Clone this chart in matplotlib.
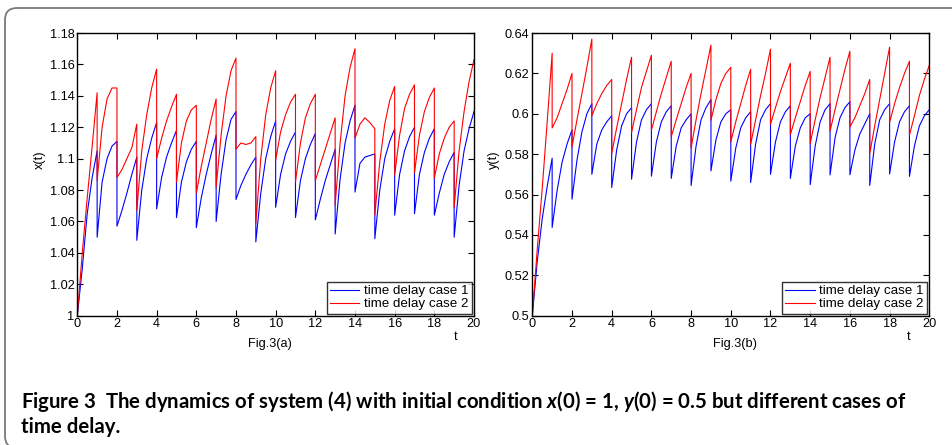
import numpy as np
import matplotlib
matplotlib.use("Agg")
import matplotlib.pyplot as plt
from matplotlib.patches import FancyBboxPatch
from matplotlib.transforms import IdentityTransform

# ---------------- data ----------------
# each row: values at t = k, k+0.25, k+0.5, k+0.75, k+1 (before the impulse at k+1)
seg_offsets = [0.0, 0.25, 0.5, 0.75, 1.0]

x_case1 = [
    [1.000, 1.030, 1.065, 1.088, 1.105],
    [1.050, 1.085, 1.100, 1.108, 1.111],
    [1.057, 1.067, 1.078, 1.090, 1.101],
    [1.048, 1.080, 1.100, 1.113, 1.123],
    [1.068, 1.088, 1.101, 1.110, 1.118],
    [1.0625, 1.085, 1.098, 1.106, 1.111],
    [1.056, 1.075, 1.090, 1.103, 1.115],
    [1.060, 1.090, 1.112, 1.125, 1.130],
    [1.074, 1.083, 1.090, 1.096, 1.101],
    [1.047, 1.078, 1.100, 1.114, 1.124],
    [1.069, 1.090, 1.103, 1.111, 1.117],
    [1.0625, 1.086, 1.100, 1.109, 1.116],
    [1.061, 1.074, 1.086, 1.096, 1.106],
    [1.052, 1.087, 1.110, 1.124, 1.134],
    [1.0787, 1.097, 1.101, 1.102, 1.103],
    [1.049, 1.080, 1.100, 1.111, 1.119],
    [1.064, 1.090, 1.105, 1.114, 1.120],
    [1.065, 1.090, 1.104, 1.113, 1.119],
    [1.064, 1.078, 1.090, 1.098, 1.104],
    [1.050, 1.083, 1.105, 1.119, 1.130],
]
x_case2 = [
    [1.000, 1.040, 1.075, 1.108, 1.142],
    [1.086, 1.120, 1.138, 1.145, 1.145],
    [1.088, 1.093, 1.100, 1.107, 1.122],
    [1.067, 1.105, 1.128, 1.145, 1.157],
    [1.100, 1.113, 1.124, 1.133, 1.141],
    [1.085, 1.110, 1.124, 1.131, 1.134],
    [1.078, 1.095, 1.110, 1.125, 1.138],
    [1.082, 1.115, 1.140, 1.156, 1.164],
    [1.106, 1.110, 1.109, 1.110, 1.114],
    [1.059, 1.100, 1.128, 1.145, 1.156],
    [1.099, 1.117, 1.128, 1.136, 1.141],
    [1.085, 1.110, 1.126, 1.135, 1.141],
    [1.086, 1.096, 1.106, 1.116, 1.126],
    [1.0706, 1.110, 1.140, 1.158, 1.170],
    [1.113, 1.122, 1.126, 1.123, 1.119],
    [1.064, 1.098, 1.122, 1.137, 1.146],
    [1.0897, 1.115, 1.132, 1.141, 1.147],
    [1.091, 1.115, 1.130, 1.139, 1.145],
    [1.0876, 1.103, 1.113, 1.120, 1.124],
    [1.069, 1.105, 1.130, 1.149, 1.163],
]
y_case1 = [
    [0.500, 0.527, 0.548, 0.564, 0.578],
    [0.5437, 0.562, 0.576, 0.585, 0.592],
    [0.5577, 0.577, 0.591, 0.600, 0.605],
    [0.570, 0.585, 0.592, 0.596, 0.599],
    [0.5635, 0.582, 0.594, 0.600, 0.603],
    [0.5676, 0.586, 0.597, 0.602, 0.605],
    [0.5691, 0.586, 0.596, 0.601, 0.604],
    [0.568, 0.584, 0.593, 0.597, 0.600],
    [0.5645, 0.584, 0.597, 0.603, 0.607],
    [0.5717, 0.587, 0.596, 0.600, 0.602],
    [0.5666, 0.583, 0.593, 0.598, 0.601],
    [0.566, 0.585, 0.597, 0.602, 0.605],
    [0.570, 0.586, 0.596, 0.601, 0.604],
    [0.568, 0.584, 0.593, 0.598, 0.600],
    [0.5649, 0.584, 0.596, 0.602, 0.605],
    [0.5697, 0.588, 0.598, 0.603, 0.606],
    [0.5698, 0.582, 0.590, 0.595, 0.600],
    [0.5645, 0.585, 0.597, 0.602, 0.605],
    [0.5702, 0.586, 0.596, 0.601, 0.604],
    [0.569, 0.584, 0.594, 0.599, 0.602],
]
y_case2 = [
    [0.500, 0.533, 0.563, 0.596, 0.630],
    [0.593, 0.598, 0.605, 0.612, 0.620],
    [0.5836, 0.597, 0.610, 0.623, 0.637],
    [0.599, 0.605, 0.610, 0.614, 0.617],
    [0.5803, 0.593, 0.605, 0.617, 0.628],
    [0.5907, 0.602, 0.613, 0.621, 0.629],
    [0.5918, 0.601, 0.610, 0.618, 0.626],
    [0.5886, 0.597, 0.605, 0.613, 0.620],
    [0.5831, 0.597, 0.610, 0.622, 0.634],
    [0.5968, 0.607, 0.615, 0.620, 0.623],
    [0.5861, 0.596, 0.605, 0.614, 0.622],
    [0.5849, 0.597, 0.609, 0.620, 0.632],
    [0.5948, 0.603, 0.611, 0.618, 0.625],
    [0.5897, 0.598, 0.606, 0.614, 0.621],
    [0.5853, 0.597, 0.608, 0.618, 0.628],
    [0.5914, 0.602, 0.612, 0.622, 0.631],
    [0.5935, 0.598, 0.604, 0.610, 0.617],
    [0.5803, 0.594, 0.607, 0.620, 0.633],
    [0.5957, 0.605, 0.613, 0.620, 0.626],
    [0.5894, 0.599, 0.609, 0.617, 0.624],
]

x_ticks = [0, 2, 4, 6, 8, 10, 12, 14, 16, 18, 20]
xa_yticks = [1.0, 1.02, 1.04, 1.06, 1.08, 1.1, 1.12, 1.14, 1.16, 1.18]
xa_yticklabels = ["1", "1.02", "1.04", "1.06", "1.08", "1.1", "1.12", "1.14", "1.16", "1.18"]
yb_yticks = [0.5, 0.52, 0.54, 0.56, 0.58, 0.6, 0.62, 0.64]
yb_yticklabels = ["0.5", "0.52", "0.54", "0.56", "0.58", "0.6", "0.62", "0.64"]
legend_labels = ["time delay case 1", "time delay case 2"]
caption_line1 = r"Figure 3  The dynamics of system (4) with initial condition $x$(0) = 1, $y$(0) = 0.5 but different cases of"
caption_line2 = "time delay."


def build(segs):
    t, v = [], []
    for k, seg in enumerate(segs):
        for off, val in zip(seg_offsets, seg):
            t.append(k + off)
            v.append(val)
    return np.array(t), np.array(v)


cap_family = "Lato"
plt.rcParams["font.family"] = ["Liberation Sans", "DejaVu Sans"]
plt.rcParams["mathtext.fontset"] = "custom"
plt.rcParams["mathtext.it"] = f"{cap_family}:italic:bold"
plt.rcParams["mathtext.rm"] = f"{cap_family}:bold"

W, H = 953, 445
fig = plt.figure(figsize=(W / 100, H / 100), dpi=100)

# outer rounded frame (pixel coordinates)
frame = FancyBboxPatch((5, -3), 1000, H - 8 + 3,
                       boxstyle="round,pad=0,rounding_size=12",
                       transform=IdentityTransform(), fill=False,
                       edgecolor="#7a7a7a", linewidth=1.3)
fig.patches.append(frame)

tick_fs = 9.2


def make_panel(rect, c1, c2, yticks, yticklabels, ylim, ylabel, figlabel,
               ylabel_x, t_x, fig_x):
    ax = fig.add_axes(rect)
    t1, v1 = build(c1)
    t2, v2 = build(c2)
    ax.plot(t1, v1, color="#0000ff", lw=0.8, label=legend_labels[0])
    ax.plot(t2, v2, color="#ff0000", lw=0.8, label=legend_labels[1])
    ax.set_xlim(0, 20)
    ax.set_ylim(*ylim)
    ax.set_xticks(x_ticks)
    ax.set_xticklabels([str(v) for v in x_ticks])
    ax.set_yticks(yticks)
    ax.set_yticklabels(yticklabels)
    ax.tick_params(direction="in", top=True, right=True, length=4,
                   width=0.8, labelsize=tick_fs, pad=2, colors="black")
    for s in ax.spines.values():
        s.set_linewidth(1.0)
    leg = ax.legend(loc="lower right", fontsize=9.6, frameon=True,
                    fancybox=False, edgecolor="black", borderaxespad=0.15,
                    handlelength=2.2, handletextpad=0.35, borderpad=0.25,
                    labelspacing=0.05)
    leg.get_frame().set_linewidth(1.0)
    fig.text(ylabel_x / W, 1 - 160 / H, ylabel, rotation=90, ha="center",
             va="center", fontsize=tick_fs)
    fig.text(t_x / W, 1 - 337 / H, "t", ha="center", va="center", fontsize=tick_fs)
    fig.text(fig_x / W, 1 - 344 / H, figlabel, ha="center", va="center",
             fontsize=tick_fs)
    return ax


H_ax = (315.7 - 33.0) / H
bottom = 1 - 315.7 / H
make_panel([77.3 / W, bottom, 396.7 / W, H_ax], x_case1, x_case2,
           xa_yticks, xa_yticklabels, (1.0, 1.18), "x(t)", "Fig.3(a)",
           40, 456, 270)
make_panel([532.3 / W, bottom, 397.0 / W, H_ax], y_case1, y_case2,
           yb_yticks, yb_yticklabels, (0.5, 0.64), "y(t)", "Fig.3(b)",
           494, 909, 735)

fig.text(21 / W, 1 - 402 / H, caption_line1, family=cap_family,
         weight="bold", fontsize=14.7, ha="left", va="center")
fig.text(21 / W, 1 - 427 / H, caption_line2, family=cap_family,
         weight="bold", fontsize=14.7, ha="left", va="center")

fig.savefig("out.png", dpi=100)
